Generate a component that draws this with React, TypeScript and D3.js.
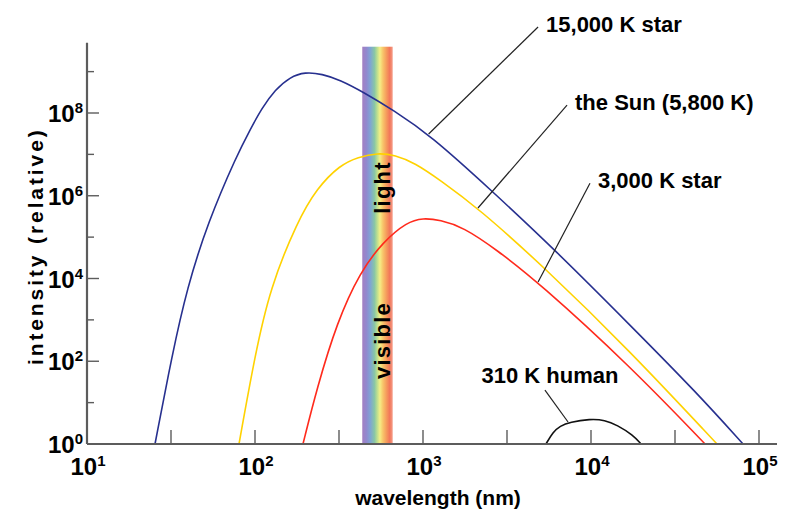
import { useEffect, useRef } from "react";
import * as d3 from "d3";

// wavelength in nm, intensity relative
const hotLambda = [25.4, 32.1, 39.4, 52.5, 78.1, 93.3, 110, 131.5, 161.4, 199, 250.5, 321, 440, 663, 1102, 2576, 6109, 17060, 42760, 80350];
const hotIntensity = [1, 142, 5890, 2.32e5, 9.66e6, 3.88e7, 1.32e8, 3.6e8, 7.42e8, 9.8e8, 8.77e8, 6.28e8, 3.22e8, 1.18e8, 2.94e7, 1.3e6, 4.89e4, 752, 17.1, 1];

const sunLambda = [80.3, 100, 123, 178, 234, 321, 410, 540, 681, 895, 1262, 2124, 5176, 17060, 56230];
const sunIntensity = [1, 142, 5890, 2.32e5, 1.54e6, 5.53e6, 8.65e6, 1.08e7, 9.66e6, 6.19e6, 2.4e6, 5.06e5, 2.0e4, 177, 1];

const coolLambda = [193, 234, 308, 422, 578, 803, 1000, 1262, 1730, 2754, 4842, 17060, 47740];
const coolIntensity = [1, 22.6, 889, 1.44e4, 7.62e4, 2.32e5, 2.9e5, 2.59e5, 1.76e5, 4.89e4, 8230, 76.7, 1];

const humanLambda = [5395, 5943, 6537, 7493, 9863, 12110, 14280, 17790, 19860];
const humanIntensity = [1, 1.95, 2.72, 3.4, 4.02, 3.8, 2.88, 1.65, 1];

const curveColors = ["#27308f", "#ffd200", "#ff2a1c", "#111111"];

const labelText = ["15,000 K star", "the Sun (5,800 K)", "3,000 K star", "310 K human"];
const leaderFrom: [number, number][] = [[1080, 3.1e7], [2124, 5.06e5], [4842, 8230], [7300, 3.4]];
const leaderTo: [number, number][] = [[4840, 1.2e10], [7200, 1.55e8], [9860, 2e6], [5320, 20]];

const visibleBand = [435, 660];
const xExponents = [1, 2, 3, 4, 5];
const yExponents = [0, 2, 4, 6, 8];

const W = 789;
const H = 516;
const FONT = "'Liberation Sans', Arial, Helvetica, sans-serif";

export default function App() {
  const ref = useRef<SVGSVGElement>(null);

  useEffect(() => {
    const svg = d3.select(ref.current);
    svg.selectAll("*").remove();

    const x = d3.scaleLog().domain([10, 1e5]).range([87, 759]);
    const y = d3.scaleLog().domain([1, 1e8]).range([444, 113]);
    const xEnd = 1.28e5;
    const yTop = 5e9;

    // spectrum band
    const grad = svg.append("defs").append("linearGradient").attr("id", "spec").attr("x1", 0).attr("x2", 1);
    const stops: [number, string][] = [
      [0, "#a47fc2"], [0.14, "#9189cf"], [0.26, "#7fa3d4"], [0.4, "#88c6a6"],
      [0.5, "#c2e08e"], [0.58, "#f4ee86"], [0.68, "#f8c46a"], [0.8, "#f59a5c"],
      [0.9, "#f2775a"], [1, "#f49c88"],
    ];
    stops.forEach(([o, c]) => grad.append("stop").attr("offset", o).attr("stop-color", c));

    svg
      .append("rect")
      .attr("x", x(visibleBand[0]))
      .attr("width", x(visibleBand[1]) - x(visibleBand[0]))
      .attr("y", y(4e9))
      .attr("height", y(1) - y(4e9))
      .attr("fill", "url(#spec)");

    const bandText = svg.append("g").attr("font-family", FONT).attr("font-weight", 700).attr("font-size", 22);
    const bandMid = x(visibleBand[1]) - 3;
    bandText
      .append("text")
      .attr("transform", `translate(${bandMid},${y(10 ** 2.5)}) rotate(-90)`)
      .attr("text-anchor", "middle")
      .attr("letter-spacing", 1.2)
      .text("visible");
    bandText
      .append("text")
      .attr("transform", `translate(${bandMid},${y(10 ** 6.2)}) rotate(-90)`)
      .attr("text-anchor", "middle")
      .attr("letter-spacing", 1.2)
      .text("light");

    // curves
    const line = d3
      .line<[number, number]>()
      .x((d) => x(d[0]))
      .y((d) => y(d[1]))
      .curve(d3.curveBasis);

    const series = [
      [hotLambda, hotIntensity],
      [sunLambda, sunIntensity],
      [coolLambda, coolIntensity],
      [humanLambda, humanIntensity],
    ];
    series.forEach(([ls, is], i) => {
      const pts = ls.map((l, j) => [l, is[j]] as [number, number]);
      svg
        .append("path")
        .attr("d", line(pts))
        .attr("fill", "none")
        .attr("stroke", curveColors[i])
        .attr("stroke-width", 1.6);
    });

    // axes
    const axis = svg.append("g").attr("stroke", "#5c5c5c");
    axis.append("line").attr("x1", x(10)).attr("x2", x(xEnd)).attr("y1", y(1)).attr("y2", y(1)).attr("stroke-width", 2.2);
    axis.append("line").attr("x1", x(10)).attr("x2", x(10)).attr("y1", y(1)).attr("y2", y(yTop)).attr("stroke-width", 2.2);

    d3.range(1.5, 5.01, 0.5).forEach((e) => {
      axis
        .append("line")
        .attr("x1", x(10 ** e))
        .attr("x2", x(10 ** e))
        .attr("y1", y(1))
        .attr("y2", y(1) - 14)
        .attr("stroke-width", 1.4);
    });
    d3.range(1, 10).forEach((e) => {
      axis
        .append("line")
        .attr("x1", x(10))
        .attr("x2", x(10) + (e % 2 === 0 ? 12 : 7))
        .attr("y1", y(10 ** e))
        .attr("y2", y(10 ** e))
        .attr("stroke-width", 1.4);
    });

    const labels = svg.append("g").attr("font-family", FONT).attr("font-weight", 700).attr("fill", "#000");

    xExponents.forEach((e) => {
      const t = labels
        .append("text")
        .attr("x", x(10 ** e) + 1)
        .attr("y", y(1) + 31)
        .attr("text-anchor", "middle")
        .attr("font-size", 24);
      t.append("tspan").text("10");
      t.append("tspan").attr("dy", -9).attr("font-size", 15).text(String(e));
    });

    yExponents.forEach((e) => {
      const t = labels
        .append("text")
        .attr("x", x(10) - 4)
        .attr("y", y(10 ** e) + 9)
        .attr("text-anchor", "end")
        .attr("font-size", 24);
      t.append("tspan").text("10");
      t.append("tspan").attr("dy", -9).attr("font-size", 15).text(String(e));
    });

    labels
      .append("text")
      .attr("x", 438)
      .attr("y", 505)
      .attr("text-anchor", "middle")
      .attr("font-size", 21)
      .text("wavelength (nm)");

    labels
      .append("text")
      .attr("transform", `translate(43,${y(10 ** 4.78)}) rotate(-90)`)
      .attr("text-anchor", "middle")
      .attr("font-size", 21)
      .attr("letter-spacing", 2.9)
      .text("intensity (relative)");

    // leader lines + curve names
    labelText.forEach((txt, i) => {
      const [a, b] = [leaderFrom[i], leaderTo[i]];
      svg
        .append("line")
        .attr("x1", x(a[0]))
        .attr("y1", y(a[1]))
        .attr("x2", x(b[0]))
        .attr("y2", y(b[1]))
        .attr("stroke", "#222")
        .attr("stroke-width", 1.2);
      const isHuman = i === 3;
      labels
        .append("text")
        .attr("x", x(b[0]) + (isHuman ? 5 : 8))
        .attr("y", y(b[1]) + (isHuman ? -7 : 5))
        .attr("text-anchor", isHuman ? "middle" : "start")
        .attr("font-size", 22)
        .text(txt);
    });
  }, []);

  return (
    <div style={{ position: "absolute", left: 0, top: 0, width: W, height: H, background: "#fff" }}>
      <svg ref={ref} width={W} height={H} viewBox={`0 0 ${W} ${H}`} style={{ display: "block" }} />
    </div>
  );
}
